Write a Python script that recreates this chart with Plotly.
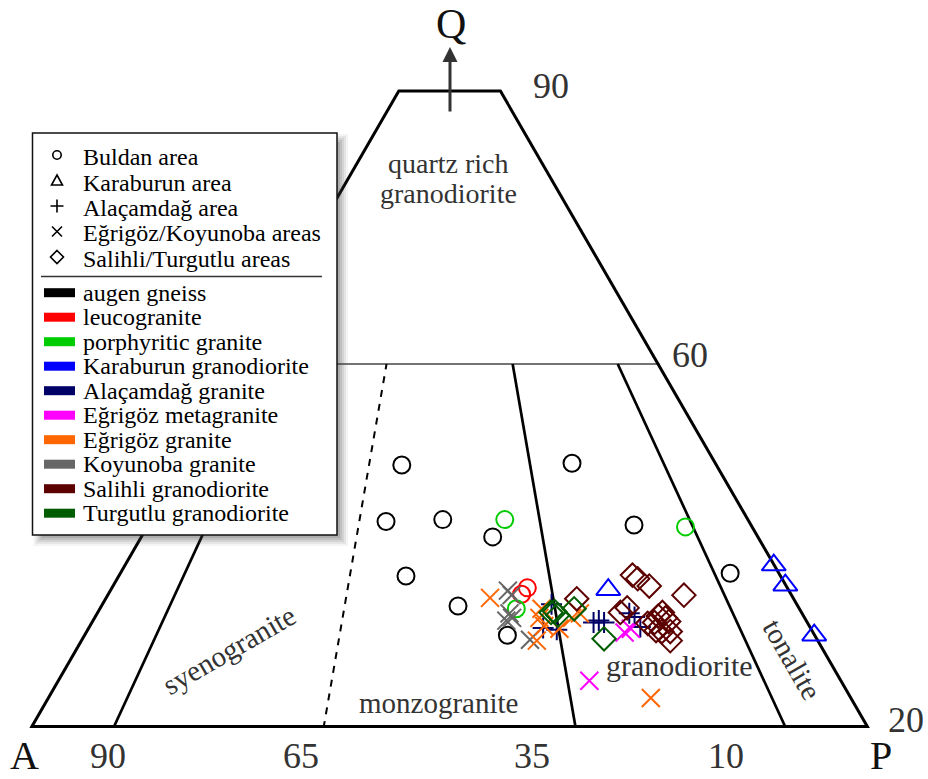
import plotly.graph_objects as go

W, H = 928, 779

# ---------------- modal compositions (Q, A, P in %) ----------------
# Buldan area (circles)
augen_Q = [48.9, 49.1, 42.7, 42.9, 41.0, 42.3, 36.7, 33.4, 30.2, 37.0]
augen_A = [30.1, 13.8, 34.7, 29.2, 25.4, 11.3, 35.8, 32.5, 29.4, 4.8]
augen_P = [21.0, 37.1, 22.6, 27.9, 33.6, 46.4, 27.5, 34.1, 40.4, 58.2]

leuco_Q = [35.4, 34.7]
leuco_A = [24.9, 25.8]
leuco_P = [39.7, 39.5]

porph_Q = [42.9, 33.1, 42.1]
porph_A = [23.3, 27.1, 6.5]
porph_P = [33.8, 39.8, 51.4]

# Karaburun area (triangles)
karab_Q = [35.2, 37.9, 35.7, 30.2]
karab_A = [17.3, 0.2, 0.2, 0.2]
karab_P = [47.5, 61.9, 64.1, 69.6]

# Alaçamdağ area (plus)
alac_Q = [33.6, 31.0, 30.8, 31.6, 31.8, 31.6, 32.6, 32.2, 31.1]
alac_A = [23.5, 25.6, 24.4, 20.5, 19.9, 19.5, 16.6, 16.3, 16.3]
alac_P = [42.9, 43.4, 44.8, 47.9, 48.3, 48.9, 50.8, 51.5, 52.6]

# Eğrigöz / Koyunoba areas (x)
egrimeta_Q = [30.5, 30.9, 25.2]
egrimeta_A = [18.1, 17.3, 24.1]
egrimeta_P = [51.4, 51.8, 50.7]

egri_Q = [34.3, 33.1, 32.1, 31.2, 29.6, 30.9, 32.1, 32.6, 23.3]
egri_A = [29.0, 24.7, 25.4, 25.4, 26.9, 24.1, 22.3, 21.3, 19.2]
egri_P = [36.7, 42.2, 42.5, 43.4, 43.5, 45.0, 45.6, 46.1, 57.5]

koy_Q = [35.1, 34.6, 32.6, 31.8, 32.1, 29.7]
koy_A = [26.9, 26.8, 28.0, 28.7, 28.0, 27.5]
koy_P = [38.0, 38.6, 39.4, 39.5, 39.9, 42.8]

# Salihli / Turgutlu areas (diamonds)
sal_Q = [34.2, 36.8, 36.4, 35.6, 34.6, 32.7, 33.2, 31.6, 32.3, 32.7, 32.1,
         31.7, 30.7, 30.6, 30.6, 29.6, 31.5]
sal_A = [20.8, 14.2, 13.9, 13.2, 10.4, 17.4, 16.5, 14.7, 14.0, 13.4, 13.4,
         13.3, 15.0, 14.5, 13.7, 14.2, 15.4]
sal_P = [45.0, 49.0, 49.7, 51.2, 55.0, 49.9, 50.3, 53.7, 53.7, 53.9, 54.5,
         55.0, 54.3, 54.9, 55.7, 56.2, 53.1]

turg_Q = [32.7, 32.8, 32.4, 33.1, 29.8]
turg_A = [24.0, 23.6, 23.5, 21.6, 20.4]
turg_P = [43.3, 43.6, 44.1, 45.3, 49.8]

# ---------------- diagram frame ----------------
Q_MIN, Q_DIV, Q_MAX = 20, 60, 90
# P/(A+P) field boundaries (%) and their A-side tick labels
field_ratio = [10, 35, 65, 90]
field_dash = ["solid", "7px,7px", "solid", "solid"]
tick_labels = ["90", "65", "35", "10"]

area_names = ["Buldan area", "Karaburun area", "Alaçamdağ area",
              "Eğrigöz/Koyunoba areas", "Salihli/Turgutlu areas"]
rock_names = ["augen gneiss", "leucogranite", "porphyritic granite",
              "Karaburun granodiorite", "Alaçamdağ granite",
              "Eğrigöz metagranite", "Eğrigöz granite", "Koyunoba granite",
              "Salihli granodiorite", "Turgutlu granodiorite"]
rock_colors = ["#000000", "#ff0000", "#00cc00", "#0000ff", "#000066",
               "#ff00ff", "#ff6600", "#666666", "#5c0000", "#005c00"]
col = dict(zip(rock_names, rock_colors))

SERIF = "Liberation Serif, Times New Roman, serif"


def px(x):
    return x / W


def py(y):
    return 1 - y / H


fig = go.Figure()


def tern_line(qs, ratios, width, color, dash="solid"):
    """Line through points given as Q level and P/(A+P) ratio (%)."""
    a, b, c = [], [], []
    for q, r in zip(qs, ratios):
        rest = 100 - q
        a.append(q)
        b.append(rest * (100 - r) / 100)
        c.append(rest * r / 100)
    fig.add_trace(go.Scatterternary(
        a=a, b=b, c=c, mode="lines", cliponaxis=False,
        line=dict(color=color, width=width, dash=dash),
        hoverinfo="skip", showlegend=False))


# Q = 60 divider
tern_line([Q_DIV, Q_DIV], [0, 100], 1.6, "#444444")
# field boundaries between Q = 20 and Q = 60
for r, d in zip(field_ratio, field_dash):
    tern_line([Q_MIN, Q_DIV], [r, r], 2.0 if d != "solid" else 2.7, "#000000", d)
# truncated outline: the sides lie on the clipped triangle edge, so they are
# drawn twice as wide to keep a full-weight stroke on the inner side
tern_line([Q_MAX, Q_MIN, Q_MIN, Q_MAX], [0, 0, 100, 100], 6, "#000000")
tern_line([Q_MAX, Q_MAX], [0, 100], 3, "#000000")


def pts(Q, A, P, symbol, color, size, lw=2):
    fig.add_trace(go.Scatterternary(
        a=Q, b=A, c=P, mode="markers", cliponaxis=False,
        marker=dict(symbol=symbol, size=size, color=color,
                    line=dict(width=lw, color=color)),
        showlegend=False))


pts(augen_Q, augen_A, augen_P, "circle-open", col["augen gneiss"], 17)
pts(leuco_Q, leuco_A, leuco_P, "circle-open", col["leucogranite"], 17)
pts(porph_Q, porph_A, porph_P, "circle-open", col["porphyritic granite"], 17)
pts(karab_Q, karab_A, karab_P, "triangle-up-open", col["Karaburun granodiorite"], 21)
pts(alac_Q, alac_A, alac_P, "cross-thin-open", col["Alaçamdağ granite"], 15)
pts(koy_Q, koy_A, koy_P, "x-thin-open", col["Koyunoba granite"], 18)
pts(egri_Q, egri_A, egri_P, "x-thin-open", col["Eğrigöz granite"], 18)
pts(egrimeta_Q, egrimeta_A, egrimeta_P, "x-thin-open", col["Eğrigöz metagranite"], 18)
pts(sal_Q, sal_A, sal_P, "diamond-open", col["Salihli granodiorite"], 18)
pts(turg_Q, turg_A, turg_P, "diamond-open", col["Turgutlu granodiorite"], 18)

hidden_axis = dict(showline=False, showgrid=False, showticklabels=False,
                   ticks="", title=dict(text=""))

shapes = []
annotations = []


def label(x, y, text, size, color="#333333", angle=0, xanchor="center"):
    annotations.append(dict(
        x=px(x), y=py(y), xref="paper", yref="paper", text=text,
        showarrow=False, xanchor=xanchor, yanchor="middle", textangle=angle,
        font=dict(family=SERIF, size=size, color=color)))


# ---------------- corner, tick and field labels ----------------
label(451, 24, "Q", 42, "#111111")
label(24, 755, "A", 40, "#111111")
label(881, 755, "P", 40, "#111111")
label(551, 86, "90", 36)
label(690, 355, "60", 36)
label(906, 720, "20", 36)
for xpos, t in zip([108, 301, 532, 726], tick_labels):
    label(xpos, 756, t, 36)

label(448, 163, "quartz rich", 28)
label(448, 193, "granodiorite", 28)
label(438, 703, "monzogranite", 29)
label(679, 665, "granodiorite", 30)
label(229, 650, "syenogranite", 29, angle=-30)
label(792, 659, "tonalite", 29, angle=60)

# Q-axis arrow
annotations.append(dict(
    x=px(450), y=py(47), xref="paper", yref="paper", text="",
    showarrow=True, ax=0, ay=66, axref="pixel", ayref="pixel",
    arrowhead=2, arrowsize=1.0, arrowwidth=3, arrowcolor="#333333"))

# ---------------- legend box ----------------
BX0, BY0, BX1, BY1 = 32.5, 133, 337, 535


def rect(x0, y0, x1, y1, **kw):
    shapes.append(dict(type="rect", xref="paper", yref="paper",
                       x0=px(x0), x1=px(x1), y0=py(y1), y1=py(y0), **kw))


# soft drop shadow
for grow, alpha in [(5, 0.06), (3, 0.08), (1, 0.10), (-1, 0.12), (-3, 0.14)]:
    rect(BX0 + 6 - grow, BY0 + 6 - grow, BX1 + 6 + grow, BY1 + 6 + grow,
         fillcolor=f"rgba(60,60,60,{alpha})", line=dict(width=0), layer="above")
rect(BX0, BY0, BX1, BY1, fillcolor="white",
     line=dict(color="#111111", width=1.5), layer="above")
# separator between symbol and colour keys
shapes.append(dict(type="line", xref="paper", yref="paper", layer="above",
                   x0=px(41), x1=px(322), y0=py(276.5), y1=py(276.5),
                   line=dict(color="#333333", width=1.5)))


def path(pts_xy, close=False, segments=None):
    if segments:
        return " ".join(
            f"M{px(a[0])},{py(a[1])} L{px(b[0])},{py(b[1])}" for a, b in segments)
    s = "M" + " L".join(f"{px(x)},{py(y)}" for x, y in pts_xy)
    return s + (" Z" if close else "")


KX, TX = 57, 81
key_kinds = ["circle", "triangle", "plus", "x", "diamond"]
for i, (name, kind) in enumerate(zip(area_names, key_kinds)):
    ty = 157 + 25.5 * i
    cy = ty - 2
    ln = dict(color="#000000", width=1.6)
    if kind == "circle":
        shapes.append(dict(type="circle", xref="paper", yref="paper", layer="above",
                           x0=px(KX - 4.2), x1=px(KX + 4.2),
                           y0=py(cy + 4.2), y1=py(cy - 4.2), line=ln))
    elif kind == "triangle":
        shapes.append(dict(type="path", xref="paper", yref="paper", layer="above",
                           path=path([(KX - 5.5, cy + 4.5), (KX + 5.5, cy + 4.5),
                                      (KX, cy - 5.5)], close=True), line=ln))
    elif kind == "plus":
        shapes.append(dict(type="path", xref="paper", yref="paper", layer="above",
                           path=path(None, segments=[((KX - 6.5, cy), (KX + 6.5, cy)),
                                                     ((KX, cy - 6.5), (KX, cy + 6.5))]),
                           line=ln))
    elif kind == "x":
        shapes.append(dict(type="path", xref="paper", yref="paper", layer="above",
                           path=path(None, segments=[((KX - 5, cy - 5), (KX + 5, cy + 5)),
                                                     ((KX + 5, cy - 5), (KX - 5, cy + 5))]),
                           line=ln))
    else:
        shapes.append(dict(type="path", xref="paper", yref="paper", layer="above",
                           path=path([(KX, cy - 6.5), (KX + 6.5, cy), (KX, cy + 6.5),
                                      (KX - 6.5, cy)], close=True), line=ln))
    label(TX, ty, name, 24, "#000000", xanchor="left")

for i, (name, c) in enumerate(zip(rock_names, rock_colors)):
    ty = 292.7 + 24.5 * i
    rect(44, ty - 4.5, 75, ty + 4.5, fillcolor=c, line=dict(width=0), layer="above")
    label(TX, ty, name, 24, "#000000", xanchor="left")

# ---------------- layout ----------------
cx = 449.6
fig.update_layout(
    width=W, height=H, autosize=False,
    margin=dict(l=0, r=0, t=0, b=0, pad=0),
    paper_bgcolor="white", plot_bgcolor="white",
    showlegend=False,
    ternary=dict(
        sum=100, bgcolor="white",
        domain=dict(x=[px(cx - 440), px(cx + 440)], y=[py(728), 1.0]),
        aaxis=dict(min=Q_MIN, **hidden_axis),
        baxis=dict(min=0, **hidden_axis),
        caxis=dict(min=0, **hidden_axis),
    ),
    shapes=shapes,
    annotations=annotations,
    font=dict(family=SERIF),
)

fig.write_html("out.html")
